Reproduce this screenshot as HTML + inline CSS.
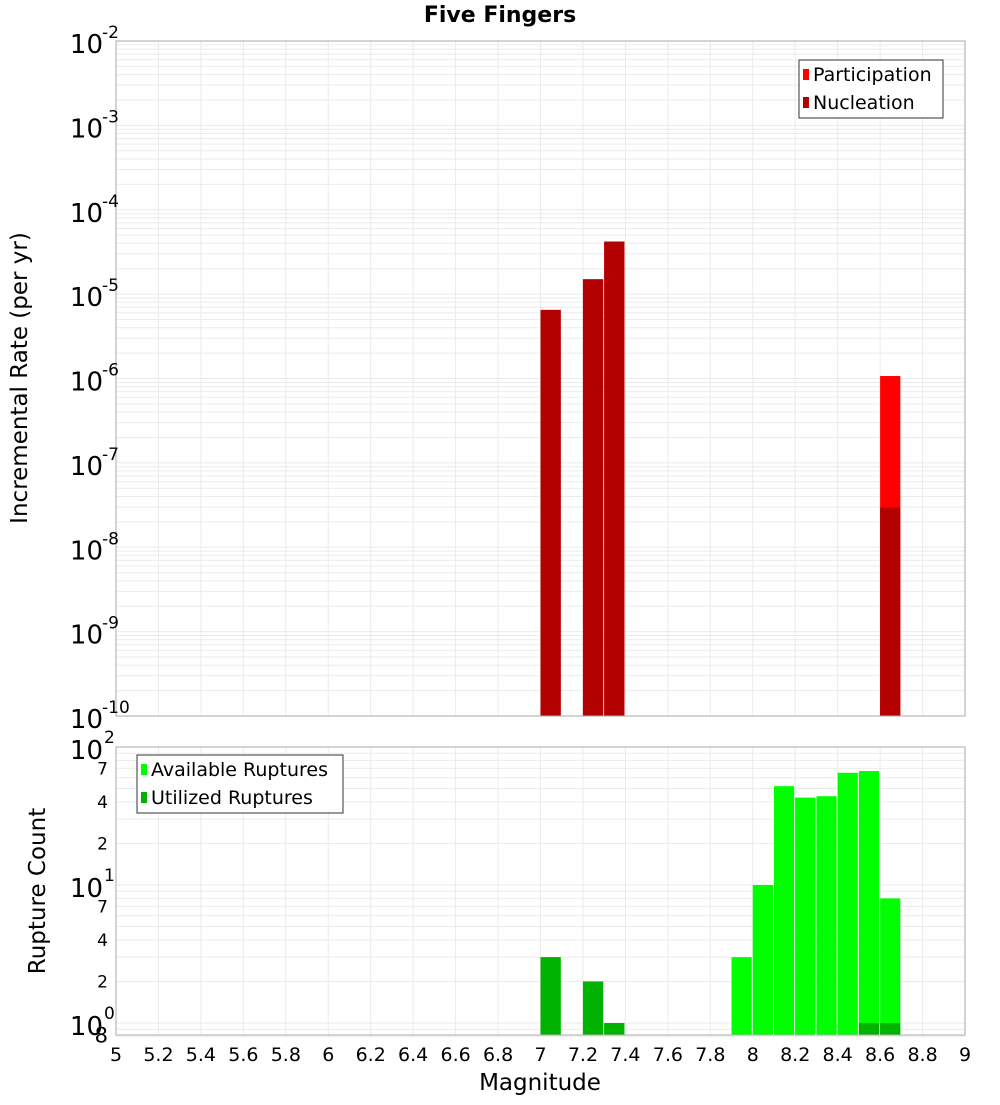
<!DOCTYPE html>
<html><head><meta charset="utf-8"><style>
body{margin:0;background:#fff}
svg text{font-family:"DejaVu Sans","Liberation Sans",sans-serif}
</style></head><body>
<svg id="c" width="1000" height="1100" xmlns="http://www.w3.org/2000/svg">
<text x="500" y="22" text-anchor="middle" font-size="22" font-weight="bold">Five Fingers</text>
<text transform="translate(27,378) rotate(-90)" text-anchor="middle" font-size="23">Incremental Rate (per yr)</text>
<text transform="translate(45,891) rotate(-90)" text-anchor="middle" font-size="23">Rupture Count</text>
<text x="540" y="1090" text-anchor="middle" font-size="23">Magnitude</text>
<g id="g"></g>
</svg>
<script>
const magBins=[7.05,7.25,7.35,8.65];
const participation=[6.5e-6,1.5e-5,4.2e-5,1.07e-6];
const nucleation=[6.5e-6,1.5e-5,4.2e-5,2.95e-8];
const countBins=[7.05,7.25,7.35,7.95,8.05,8.15,8.25,8.35,8.45,8.55,8.65];
const available=[3,2,1,3,10,52,43,44,65,67,8];
const utilized=[3,2,1,0,0,0,0,0,0,1,1];
const xTicks=[5,5.2,5.4,5.6,5.8,6,6.2,6.4,6.6,6.8,7,7.2,7.4,7.6,7.8,8,8.2,8.4,8.6,8.8,9];
const topExps=[-2,-3,-4,-5,-6,-7,-8,-9,-10];
const botMinor=[[70,"7"],[40,"4"],[20,"2"],[7,"7"],[4,"4"],[2,"2"],[0.8,"8"]];
const NS="http://www.w3.org/2000/svg";
const g=document.getElementById('g');
function el(t,a,p){const e=document.createElementNS(NS,t);for(const k in a)e.setAttribute(k,a[k]);(p||g).appendChild(e);return e;}
const L=116,R=965;
const x=m=>L+(m-5)*(R-L)/4;
const T1=41,B1=716;
const y1=v=>T1+(-2-Math.log10(v))*(B1-T1)/8;
const T2=747,B2=1035;
const y2=v=>T2+(2-Math.log10(v))*138;
for(const t of xTicks){
  for(const [a,b] of [[T1,B1],[T2,B2]]){const l=el('line',{x1:x(t),x2:x(t),y1:a,y2:b,stroke:'#ebebeb'});}
}
for(let e=-10;e<-2;e++)for(let k=1;k<10;k++){const yy=y1(k*Math.pow(10,e));const l=el('line',{x1:L,x2:R,y1:yy,y2:yy,stroke:'#ebebeb'});}
for(let e=-1;e<2;e++)for(let k=1;k<10;k++){const v=k*Math.pow(10,e);if(v<0.8)continue;const yy=y2(v);const l=el('line',{x1:L,x2:R,y1:yy,y2:yy,stroke:'#ebebeb'});}
const bw=(x(5.1)-x(5))-1;
magBins.forEach((m,i)=>{
  let r=el('rect',{x:x(m-0.05),y:y1(participation[i]),width:bw,height:B1-y1(participation[i]),fill:'#ff0000'});
  
  r=el('rect',{x:x(m-0.05),y:y1(nucleation[i]),width:bw,height:B1-y1(nucleation[i]),fill:'#b30000'});
  
});
countBins.forEach((m,i)=>{
  if(available[i]>0){const yy=Math.min(y2(available[i]),B2);const r=el('rect',{x:x(m-0.05),y:yy,width:bw,height:B2-yy,fill:'#00ff00'});
  }
  if(utilized[i]>0){const yy=Math.min(y2(utilized[i]),B2);const r=el('rect',{x:x(m-0.05),y:yy,width:bw,height:B2-yy,fill:'#00b300'});
  }
});
let f=el('rect',{x:L,y:T1,width:R-L,height:B1-T1,fill:'none',stroke:'#aaa'});
f=el('rect',{x:L,y:T2,width:R-L,height:B2-T2,fill:'none',stroke:'#aaa'});
for(const e of topExps){const yy=y1(Math.pow(10,e));
  const t=el('text',{x:103,y:yy+12,'text-anchor':'end','font-size':26});t.textContent='10';
  const s=el('text',{x:102,y:yy-3,'font-size':17});s.textContent=String(e);}
for(const e of [2,1,0]){const yy=y2(Math.pow(10,e));
  const t=el('text',{x:103,y:yy+12,'text-anchor':'end','font-size':26});t.textContent='10';
  const s=el('text',{x:104,y:yy-4,'font-size':17});s.textContent=String(e);}
for(const [v,s] of botMinor){const t=el('text',{x:108,y:y2(v)+6,'text-anchor':'end','font-size':v===0.8?21:17});t.textContent=s;}
for(const t of xTicks){const e=el('text',{x:x(t),y:1061,'text-anchor':'middle','font-size':19});e.textContent=String(t);}
function legend(x0,y0,w,items,name){const lg=el('g',{});
  el('rect',{x:x0,y:y0,width:w,height:58,fill:'#fff',stroke:'#333'},lg);
  items.forEach(([c,s],i)=>{el('rect',{x:x0+4,y:y0+9+i*28,width:6,height:11,fill:c},lg);
    const t=el('text',{x:x0+14,y:y0+21+i*28,'font-size':19},lg);t.textContent=s;});}
legend(799,60,144,[['#ff0000','Participation'],['#b30000','Nucleation']],'top-legend');
legend(137,755,206,[['#00ff00','Available Ruptures'],['#00b300','Utilized Ruptures']],'bottom-legend');
</script>
</body></html>
